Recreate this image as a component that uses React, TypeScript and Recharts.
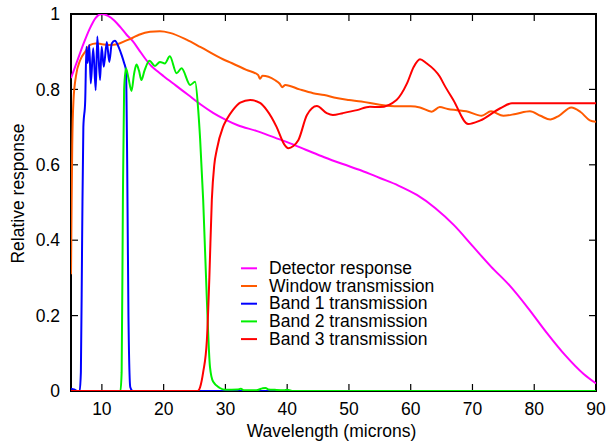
import React from 'react';
import { ComposedChart, Line, XAxis, YAxis, Label } from 'recharts';

// Axis ticks
const wavelengthTicks = [10, 20, 30, 40, 50, 60, 70, 80, 90];
const responseTicks = [0, 0.2, 0.4, 0.6, 0.8, 1];
const wavelengthRange: [number, number] = [5, 90];
const responseRange: [number, number] = [0, 1];

// [wavelength (microns), relative response]
const detectorResponse: [number, number][] = [
  [5, 0.83], [6, 0.875], [7, 0.92], [8, 0.96], [9, 0.99], [10, 1.0], [11, 0.995],
  [12, 0.983], [13, 0.965], [14, 0.945], [15, 0.928], [16, 0.905], [17, 0.882],
  [18, 0.862], [19, 0.848], [20, 0.835], [22, 0.81], [24, 0.785], [26, 0.76],
  [28, 0.738], [30, 0.72], [32, 0.705], [35, 0.69], [38, 0.672], [40, 0.66],
  [43, 0.64], [46, 0.62], [49, 0.602], [52, 0.585], [55, 0.565], [58, 0.545],
  [61, 0.52], [64, 0.485], [67, 0.44], [70, 0.385], [73, 0.33], [76, 0.28],
  [79, 0.22], [82, 0.155], [85, 0.095], [88, 0.045], [90, 0.02],
];

const windowTransmission: [number, number][] = [
  [5, 0.31], [5.1, 0.5], [5.2, 0.65], [5.4, 0.77], [5.8, 0.835], [6.5, 0.878],
  [7.3, 0.9], [8.1, 0.918], [9, 0.922], [10, 0.92], [11.3, 0.918], [12.5, 0.92],
  [14, 0.93], [15, 0.937], [16, 0.945], [17.8, 0.953], [19.4, 0.954], [21, 0.95],
  [23.7, 0.932], [26, 0.912], [29.6, 0.88], [31, 0.87], [33.4, 0.852], [35.3, 0.838],
  [35.6, 0.828], [36, 0.836], [38, 0.825], [38.8, 0.815], [39.2, 0.806], [39.7, 0.812],
  [42, 0.8], [44.2, 0.79], [46, 0.785], [48, 0.777], [50, 0.772], [52, 0.768],
  [55, 0.759], [58, 0.755], [60, 0.755], [61.5, 0.752], [63.4, 0.741], [64.7, 0.753],
  [66, 0.748], [67.5, 0.745], [69, 0.742], [71.5, 0.73], [73, 0.742], [75, 0.73],
  [77, 0.735], [79.3, 0.742], [81, 0.73], [82.6, 0.72], [84, 0.73], [86, 0.752],
  [87.5, 0.74], [89, 0.718], [90, 0.714],
];

const band1Transmission: [number, number][] = [
  [5, 0.006], [5.5, 0.004], [6, 0], [6.4, 0], [6.6, 0.05], [6.8, 0.4], [7.0, 0.7],
  [7.3, 0.77], [7.5, 0.913], [7.7, 0.87], [7.96, 0.918], [8.2, 0.816], [8.6, 0.909],
  [9.0, 0.798], [9.26, 0.94], [9.7, 0.825], [9.97, 0.913], [10.3, 0.86], [10.8, 0.926],
  [11.2, 0.873], [11.6, 0.922], [12.1, 0.929], [12.7, 0.913], [13.2, 0.891],
  [13.6, 0.87], [13.9, 0.85], [14.1, 0.6], [14.3, 0.2], [14.6, 0.01], [15, 0], [90, 0],
];

const band2Transmission: [number, number][] = [
  [5, 0], [13.0, 0], [13.2, 0.05], [13.4, 0.5], [13.6, 0.8], [13.9, 0.856],
  [14.3, 0.83], [14.8, 0.796], [15.2, 0.84], [15.6, 0.866], [16.0, 0.85], [16.4, 0.825],
  [16.9, 0.85], [17.7, 0.876], [18.6, 0.862], [19.4, 0.873], [20.2, 0.869],
  [21.0, 0.888], [22.1, 0.843], [22.9, 0.856], [24.3, 0.812], [25.1, 0.82],
  [25.6, 0.745], [25.9, 0.67], [26.4, 0.507], [27, 0.24], [27.5, 0.064], [28, 0.025],
  [29.1, 0.008], [30, 0.003], [32, 0.004], [32.5, 0.006], [33, 0.002], [35, 0.002],
  [36, 0.007], [36.5, 0.008], [37, 0.004], [38, 0.003], [39.5, 0.002], [40, 0.003],
  [41, 0], [90, 0],
];

const band3Transmission: [number, number][] = [
  [5, 0], [25.5, 0], [25.9, 0.01], [26.4, 0.05], [27, 0.135], [27.4, 0.3],
  [27.8, 0.507], [28.2, 0.6], [28.6, 0.64], [29.6, 0.7], [30.2, 0.72], [31.2, 0.745],
  [32.4, 0.765], [34, 0.772], [35.6, 0.764], [36.7, 0.745], [38.3, 0.7], [39.5, 0.655],
  [40.2, 0.644], [41, 0.65], [41.8, 0.665], [43.2, 0.732], [44.8, 0.756], [46.4, 0.737],
  [47.4, 0.732], [49, 0.737], [51.3, 0.745], [53.4, 0.754], [55, 0.753], [57.7, 0.772],
  [59.4, 0.816], [60.5, 0.86], [61.5, 0.88], [62.5, 0.87], [64.7, 0.834], [65.5, 0.81],
  [66.9, 0.772], [69.3, 0.708], [71.2, 0.717], [74.5, 0.75], [76.4, 0.763], [90, 0.763],
];

const toPoints = (pts: [number, number][]) => pts.map(([w, r]) => ({ w, r }));

const series = [
  { name: 'Detector response', color: '#ff00ff', data: toPoints(detectorResponse) },
  { name: 'Window transmission', color: '#ff5a00', data: toPoints(windowTransmission) },
  { name: 'Band 1 transmission', color: '#0000ff', data: toPoints(band1Transmission) },
  { name: 'Band 2 transmission', color: '#00f000', data: toPoints(band2Transmission) },
  { name: 'Band 3 transmission', color: '#ff0000', data: toPoints(band3Transmission) },
];

const CHART_W = 613;
const CHART_H = 445;
const MARGIN = { top: 14, right: 17, bottom: 0, left: 0 };
const Y_AXIS_W = 71;
const X_AXIS_H = 54;
const FRAME = '#000';
const FONT = 17.5;
const TICK_LEN = 7;

// plot rectangle implied by the margins and axis sizes above
const plot = {
  left: MARGIN.left + Y_AXIS_W,
  top: MARGIN.top,
  width: CHART_W - MARGIN.left - MARGIN.right - Y_AXIS_W,
  height: CHART_H - MARGIN.top - MARGIN.bottom - X_AXIS_H,
};
const px = (w: number) =>
  plot.left + ((w - wavelengthRange[0]) / (wavelengthRange[1] - wavelengthRange[0])) * plot.width;
const py = (r: number) =>
  plot.top + (1 - (r - responseRange[0]) / (responseRange[1] - responseRange[0])) * plot.height;

const YTitle = (props: any) => {
  const vb = props.viewBox || { x: 0, y: 0, width: 0, height: 0 };
  const cx = vb.x + 24;
  const cy = vb.y + vb.height / 2 - 9;
  return (
    <text x={cx} y={cy} transform={`rotate(-90 ${cx} ${cy})`} textAnchor="middle" fontSize={FONT} fill="#000">
      Relative response
    </text>
  );
};

const XTitle = (props: any) => {
  const vb = props.viewBox || { x: 0, y: 0, width: 0, height: 0 };
  const cx = vb.x + vb.width / 2 - 2;
  return (
    <text x={cx} y={vb.y + 46} textAnchor="middle" fontSize={FONT} fill="#000">
      Wavelength (microns)
    </text>
  );
};

// Frame with inward ticks on all sides, plus the key; sits beneath the curves
const FrameAndKey = () => {
  const right = plot.left + plot.width;
  const bottom = plot.top + plot.height;
  return (
    <svg width={CHART_W} height={CHART_H} style={{ position: 'absolute', left: 0, top: 0 }}>
      <rect
        x={plot.left}
        y={plot.top}
        width={plot.width}
        height={plot.height}
        fill="none"
        stroke={FRAME}
        strokeWidth={2}
      />
      {wavelengthTicks.map((t) => (
        <g key={`xt${t}`} stroke={FRAME} strokeWidth={1.2}>
          <line x1={px(t)} x2={px(t)} y1={bottom} y2={bottom - TICK_LEN} />
          <line x1={px(t)} x2={px(t)} y1={plot.top} y2={plot.top + TICK_LEN} />
        </g>
      ))}
      {responseTicks.map((t) => (
        <g key={`yt${t}`} stroke={FRAME} strokeWidth={1.2}>
          <line x1={plot.left} x2={plot.left + TICK_LEN} y1={py(t)} y2={py(t)} />
          <line x1={right} x2={right - TICK_LEN} y1={py(t)} y2={py(t)} />
        </g>
      ))}
      {series.map((s, i) => (
        <g key={s.name}>
          <line x1={241} x2={257} y1={268.3 + i * 17.7} y2={268.3 + i * 17.7} stroke={s.color} strokeWidth={2} />
          <text x={269} y={274 + i * 17.7} fontSize={FONT} fill="#000">
            {s.name}
          </text>
        </g>
      ))}
    </svg>
  );
};

export default function App() {
  return (
    <div style={{ position: 'absolute', left: 0, top: 0, width: CHART_W, height: CHART_H, background: '#fff', fontFamily: '"Liberation Sans", Arial, Helvetica, sans-serif' }}>
      <FrameAndKey />
      <div style={{ position: 'absolute', left: 0, top: 0 }}>
        <ComposedChart width={CHART_W} height={CHART_H} margin={MARGIN}>
          <XAxis
            xAxisId="x"
            dataKey="w"
            type="number"
            domain={wavelengthRange}
            allowDataOverflow
            ticks={wavelengthTicks}
            height={X_AXIS_H}
            tickLine={false}
            tickSize={0}
            tickMargin={12}
            axisLine={false}
            tick={{ fill: '#000', fontSize: FONT }}
          >
            <Label content={<XTitle />} />
          </XAxis>
          <YAxis
            yAxisId="y"
            type="number"
            domain={responseRange}
            allowDataOverflow
            ticks={responseTicks}
            width={Y_AXIS_W}
            tickLine={false}
            tickSize={0}
            tickMargin={11}
            axisLine={false}
            tick={{ fill: '#000', fontSize: FONT }}
          >
            <Label content={<YTitle />} />
          </YAxis>
          {series.map((s) => (
            <Line
              key={s.name}
              xAxisId="x"
              yAxisId="y"
              data={s.data}
              dataKey="r"
              name={s.name}
              type="monotone"
              stroke={s.color}
              strokeWidth={2}
              dot={false}
              activeDot={false}
              isAnimationActive={false}
            />
          ))}
        </ComposedChart>
      </div>
    </div>
  );
}
